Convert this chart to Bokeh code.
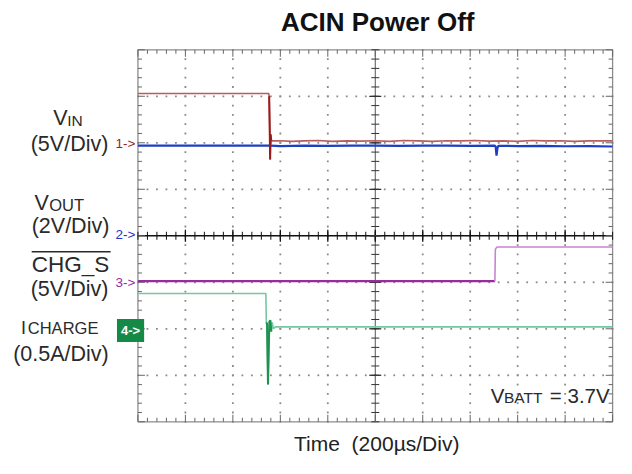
import numpy as np
from bokeh.plotting import figure
from bokeh.models import Range1d, Label
from bokeh.embed import file_html
from bokeh.resources import INLINE

# ---------------- data ----------------
# time axis in microseconds (200 us/div, 10 divisions)
vin_t = [0, 551, 553, 555, 557, 559, 562, 600, 650, 700, 760, 820, 880, 940, 1000,
         1060, 1120, 1180, 1240, 1300, 1360, 1420, 1480, 1540, 1600, 1660, 1720,
         1780, 1840, 1900, 1960, 2000]
vin_v = [5.3, 5.3, 5.0, 2.0, -1.8, 0.9, 0.2, 0.22, 0.15, 0.2, 0.25, 0.15, 0.2, 0.18,
         0.22, 0.15, 0.25, 0.2, 0.15, 0.22, 0.2, 0.25, 0.18, 0.2, 0.15, 0.25, 0.2,
         0.22, 0.15, 0.2, 0.22, 0.2]

vout_t = [0, 560, 600, 700, 800, 900, 1000, 1100, 1200, 1300, 1400, 1503, 1507,
          1511, 1515, 1519, 1600, 1700, 1800, 1900, 2000]
vout_v = [3.88, 3.88, 3.86, 3.88, 3.87, 3.88, 3.88, 3.87, 3.88, 3.88, 3.87, 3.88,
          3.85, 3.45, 3.78, 3.87, 3.86, 3.87, 3.85, 3.86, 3.84]

chgs_t = [0, 400, 800, 1200, 1504, 1506, 1510, 1515, 1700, 1900, 2000]
chgs_v = [0.12, 0.12, 0.12, 0.12, 0.12, 3.55, 3.7, 3.8, 3.8, 3.8, 3.8]

ichg_t = [0, 539, 541, 544, 548, 551, 554, 558, 562, 566, 571, 579, 800, 1200,
          1600, 2000]
ichg_a = [0.38, 0.38, 0.07, 0.05, -0.60, -0.25, 0.08, 0.09, -0.03, 0.07, 0.0,
          0.02, 0.02, 0.02, 0.02, 0.02]

# channel settings: ground offset (divisions) and scale (units / div)
vin_off, vin_scale = 2, 5.0
vout_off, vout_scale = 0, 2.0
chgs_off, chgs_scale = -1, 5.0
ichg_off, ichg_scale = -2, 0.5

FONT = "Liberation Sans"

# ---------------- geometry: the frame covers the whole canvas ----------------
W, H = 616, 458
SX, SY = W / 632, H / 474                    # reference picture -> canvas
GL, GR, GT, GB = 141 * SX, 628 * SX, 51 * SY, 436 * SY   # graticule box (canvas px)
T0, T1, Y0, Y1 = 0, 2000, -4, 4              # graticule in data units
PX = (T1 - T0) / (GR - GL)                   # data units per pixel (x)
PY = (Y1 - Y0) / (GB - GT)                   # data units per pixel (y)

p = figure(width=W, height=H,
           x_range=Range1d(T0 - GL * PX, T1 + (W - GR) * PX),
           y_range=Range1d(Y0 - (H - GB) * PY, Y1 + GT * PY),
           x_axis_location=None, y_axis_location=None, toolbar_location=None,
           output_backend="svg", min_border=0, outline_line_color=None,
           background_fill_color="white", border_fill_color="white")
p.grid.visible = False

# ---------------- graticule ----------------
minor_x = np.arange(T0, T1 + 1, 40)
major_x = np.arange(T0, T1 + 1, 200)
minor_y = np.round(np.arange(Y0, Y1 + 0.0001, 0.2), 3)
major_y = np.arange(Y0, Y1 + 1, 1)

dx, dy = [], []
for xm in major_x[1:-1]:
    if xm == 1000:
        continue
    dx += [xm] * len(minor_y)
    dy += list(minor_y)
for ym in major_y[1:-1]:
    if ym == 0:
        continue
    dx += list(minor_x)
    dy += [ym] * len(minor_x)
p.scatter(dx, dy, marker="square", size=1.8, fill_color="#8a8a8a", line_color=None)

# outline
p.line([T0, T1, T1, T0, T0], [Y0, Y0, Y1, Y1, Y0], line_color="#8c8c8c", line_width=1.3)

# center cross
p.line([1000, 1000], [Y0, Y1], line_color="#555555", line_width=1)
p.line([T0, T1], [0, 0], line_color="#111111", line_width=1.4)

# center ticks
p.scatter(minor_x, [0] * len(minor_x), marker="dash", angle=np.pi / 2, size=8,
          line_color="#111111", line_width=1)
p.scatter(major_x[1:-1], [0] * len(major_x[1:-1]), marker="dash", angle=np.pi / 2,
          size=12, line_color="#111111", line_width=1.3)
p.scatter([1000] * len(minor_y), minor_y, marker="dash", size=8,
          line_color="#333333", line_width=1)
p.scatter([1000] * len(major_y[1:-1]), major_y[1:-1], marker="dash", size=12,
          line_color="#333333", line_width=1.3)

# inward border ticks
tk_minor, tk_major = 4, 7
bx0, bx1, by0, by1 = [], [], [], []
for xs in minor_x:
    ln = tk_major if xs % 200 == 0 else tk_minor
    bx0 += [xs, xs]; bx1 += [xs, xs]
    by0 += [Y1, Y0]; by1 += [Y1 - ln * PY, Y0 + ln * PY]
for ys in minor_y:
    ln = tk_major if abs(ys - round(ys)) < 1e-6 else tk_minor
    by0 += [ys, ys]; by1 += [ys, ys]
    bx0 += [T0, T1]; bx1 += [T0 + ln * PX, T1 - ln * PX]
p.segment(bx0, by0, bx1, by1, line_color="#666666", line_width=1)

# ---------------- traces ----------------
vin_t_a = np.array(vin_t, float)
vin_y = vin_off + np.array(vin_v) / vin_scale
vout_y = vout_off + np.array(vout_v) / vout_scale
chgs_t_a = np.array(chgs_t, float)
chgs_y = chgs_off + np.array(chgs_v) / chgs_scale
ichg_t_a = np.array(ichg_t, float)
ichg_y = ichg_off + np.array(ichg_a) / ichg_scale

# ICHARGE
p.line(ichg_t_a, ichg_y, line_color="#74c9a1", line_width=1.6)
m = (ichg_t_a >= 541) & (ichg_t_a <= 562)
p.line(ichg_t_a[m], ichg_y[m], line_color="#1f9150", line_width=2)

# CHG_S
m = chgs_t_a <= 1504
p.line(chgs_t_a[m], chgs_y[m], line_color="#9a2aa0", line_width=2.2)
m = chgs_t_a >= 1504
p.line(chgs_t_a[m], chgs_y[m], line_color="#c884d0", line_width=1.6)

# VOUT
p.line(vout_t, vout_y, line_color="#1d3fc4", line_width=2.2)

# VIN
p.line(vin_t_a, vin_y, line_color="#b65e5c", line_width=1.6)
m = (vin_t_a >= 553) & (vin_t_a <= 562)
p.line(vin_t_a[m], vin_y[m], line_color="#9b1b1b", line_width=2)

# ---------------- texts (positions given in reference-picture pixels) ----------------
def X(px):
    return (px - 141) / 487 * 2000


def Y(py):
    return 4 - (py - 51) / 385 * 8


def lab(text, px, py, size, color="#2a2a2a", align="left", bold=False,
        centered=False, **kw):
    # py is the text baseline (or the text middle when centered=True), reference px
    mid = py if centered else py - 0.35 * size / SY
    p.add_layout(Label(x=X(px), y=Y(mid), text=text, text_font=FONT,
                       text_font_size=f"{size}px", text_color=color,
                       text_align=align, text_baseline="middle",
                       text_font_style="bold" if bold else "normal", **kw))


lab("ACIN Power Off", 387, 32, 26, color="#111111", align="center", bold=True)
lab("Time\u00a0\u00a0(200\u00b5s/Div)", 386, 466, 21, color="#222222", align="center")

lab("V", 54, 129.5, 21.5)
lab("IN", 68.5, 129.5, 15.5)
lab("(5V/Div)", 31, 156.5, 21.5)

lab("V", 35, 217.5, 21.5)
lab("OUT", 50, 217.5, 16.5)
lab("(2V/Div)", 32, 241, 21.5)

lab("CHG_S", 32, 281, 22.5)
p.line([X(32), X(113)], [Y(260), Y(260)], line_color="#2a2a2a", line_width=1.5)
lab("(5V/Div)", 31, 306.5, 21.5)

lab("I", 21, 345, 18)
lab("CHARGE", 28, 345, 16.5)
lab("(0.5A/Div)", 13, 374, 21.5)

lab("1->", 118, 147.5, 13.5, color="#a01c1c", centered=True)
lab("2->", 118, 242.5, 13.5, color="#2233c0", centered=True)
lab("3->", 118, 291.5, 13.5, color="#9a2aa0", centered=True)
lab("4->", 119.5, 341.5, 13, color="white", bold=True, centered=True,
    background_fill_color="#158a47", padding=4)

lab("V", 503, 416.5, 20.5)
lab("BATT", 516.5, 416.5, 15.5)
lab("= 3.7V", 625, 416.5, 20.5, align="right")

open("out.html", "w").write(file_html(p, INLINE))
